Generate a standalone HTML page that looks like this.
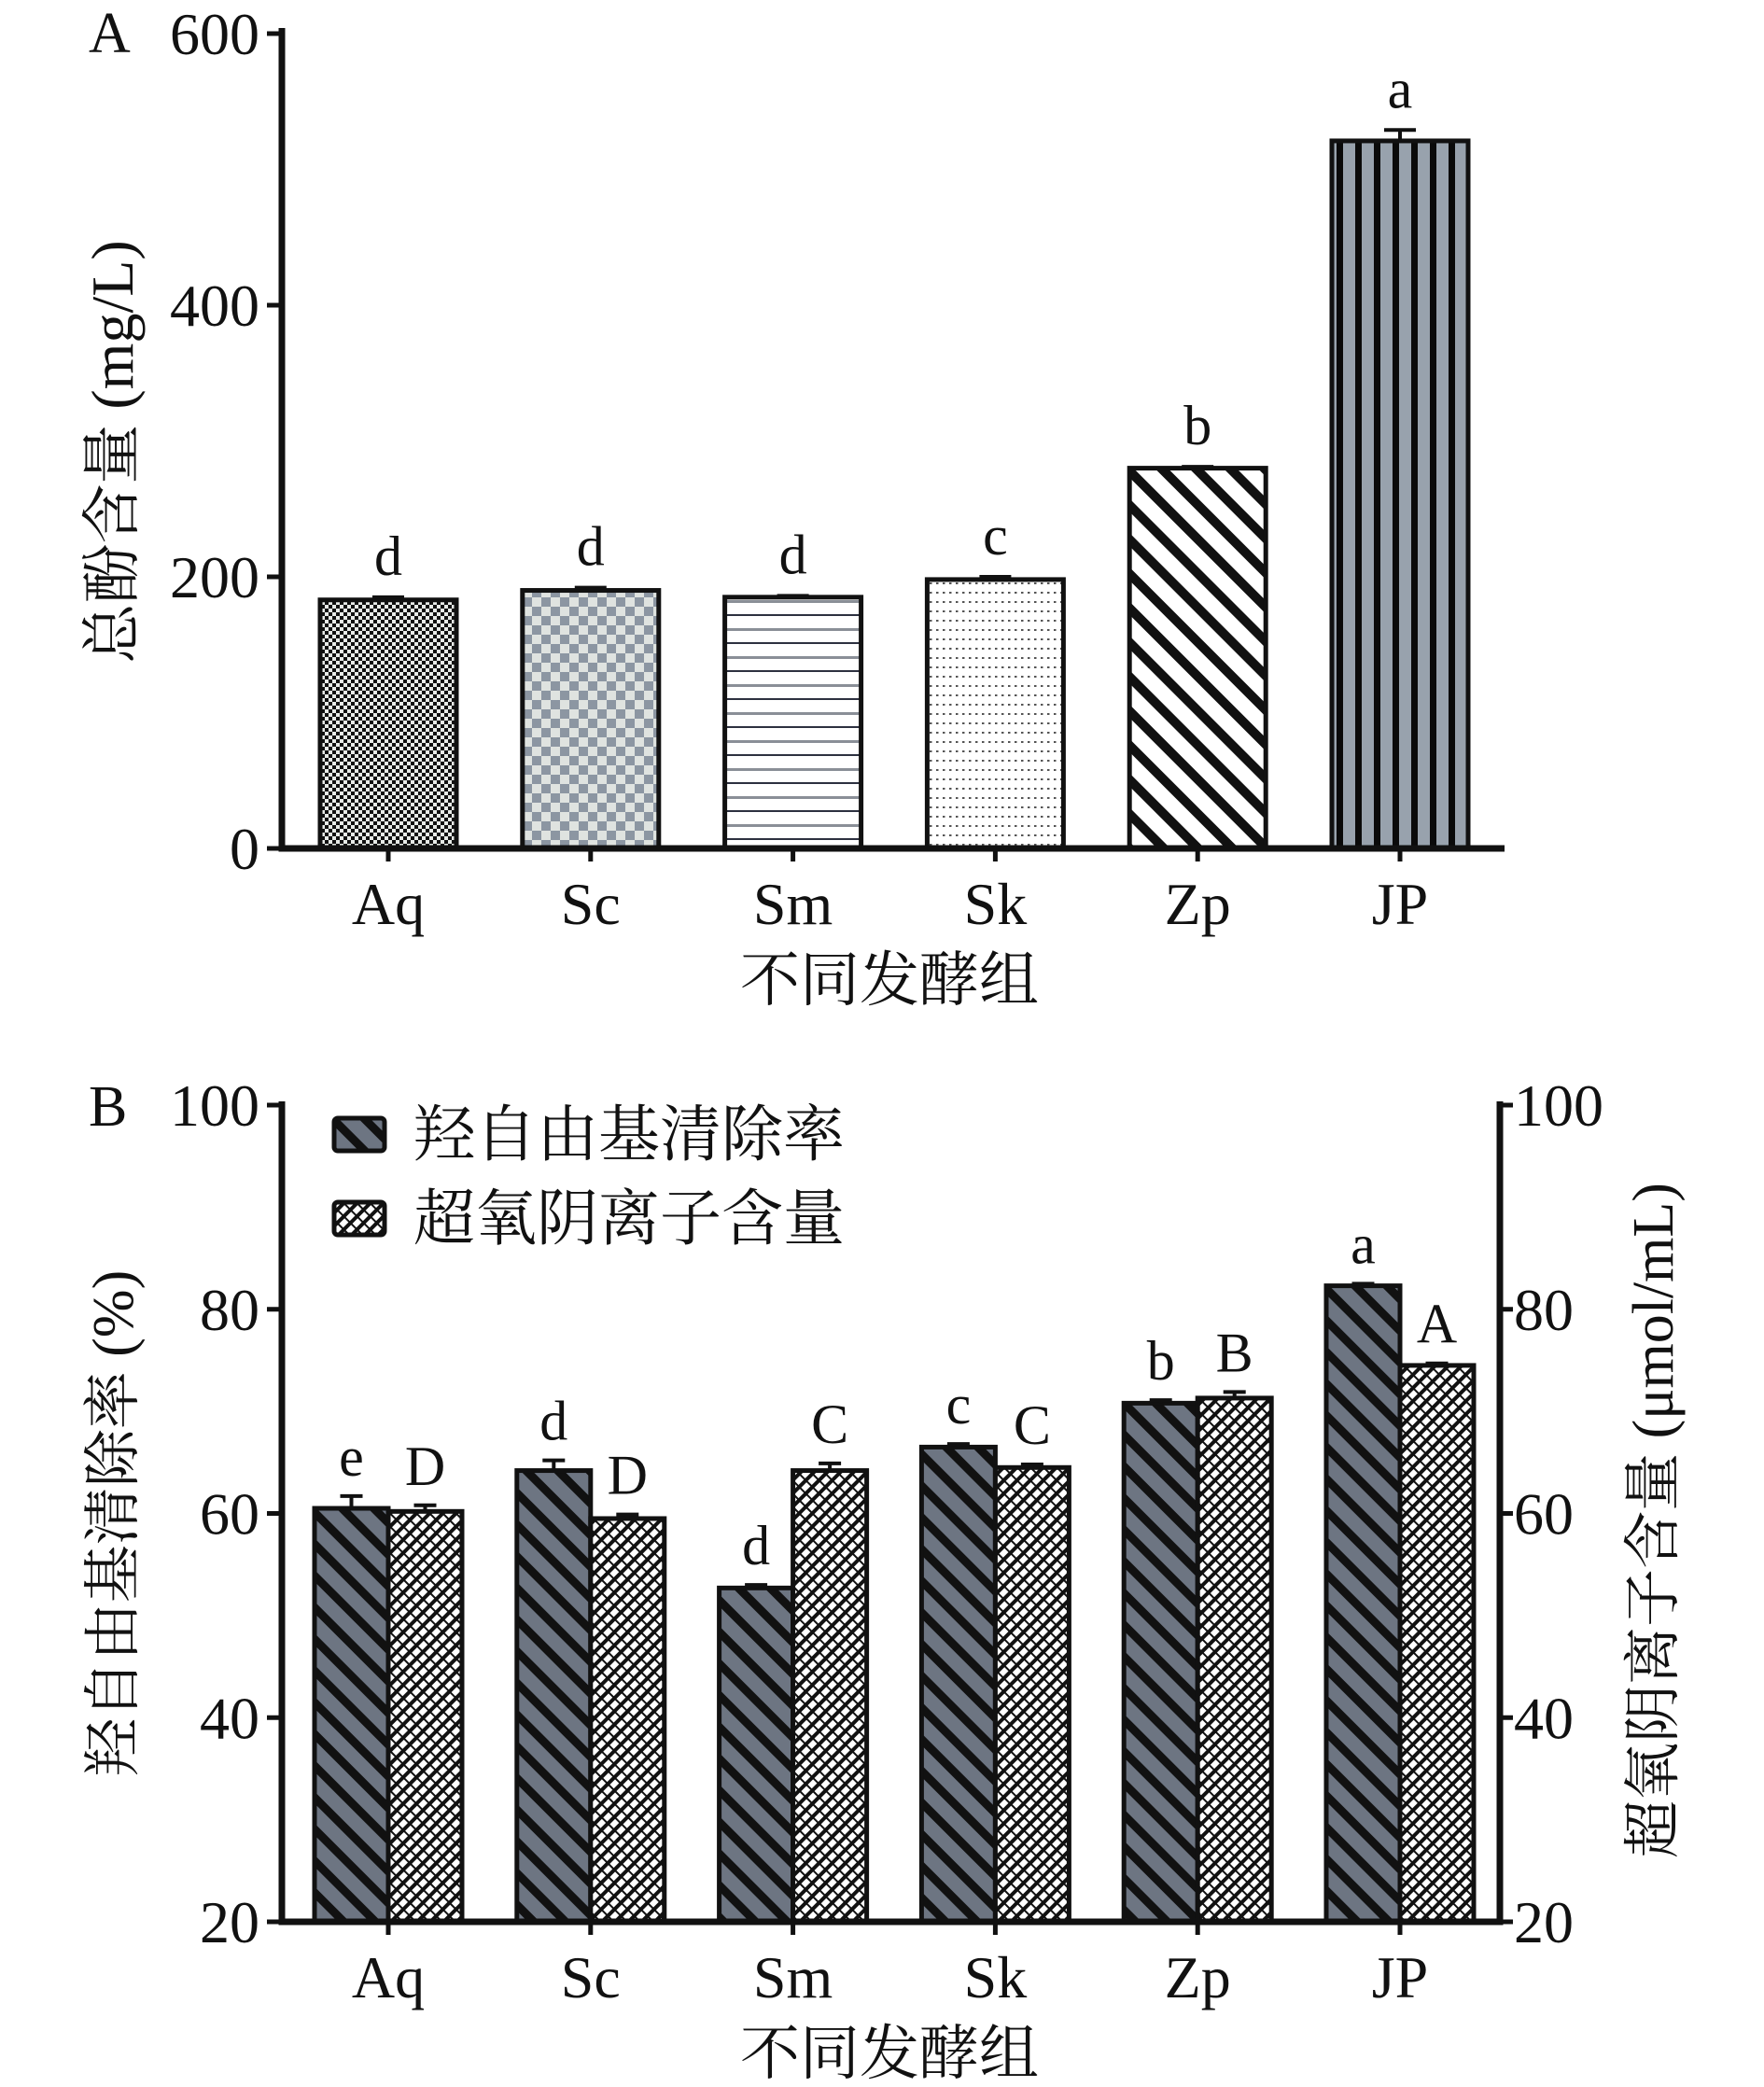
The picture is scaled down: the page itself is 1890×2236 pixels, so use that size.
<!DOCTYPE html>
<html><head><meta charset="utf-8"><style>
html,body{margin:0;padding:0;background:#fff;}
svg{display:block;}
text{font-family:"Liberation Serif","Noto Serif CJK SC",serif;fill:#111;}
</style></head><body>
<svg id="fig" width="1890" height="2236" viewBox="0 0 1890 2236" xmlns="http://www.w3.org/2000/svg">
<defs>
<pattern id="pAq" width="8" height="8" patternUnits="userSpaceOnUse"><rect width="8" height="8" fill="#e8ebe8"/><rect width="4" height="4" fill="#111"/><rect x="4" y="4" width="4" height="4" fill="#111"/></pattern>
<pattern id="pSc" width="20" height="20" patternUnits="userSpaceOnUse"><rect width="20" height="20" fill="#dfe3e0"/><rect width="10" height="10" fill="#8c96a2"/><rect x="10" y="10" width="10" height="10" fill="#8c96a2"/></pattern>
<pattern id="pSm" width="30" height="30" patternUnits="userSpaceOnUse"><rect width="30" height="30" fill="#fff"/><rect y="13" width="30" height="3" fill="#8a8f97"/><rect y="28" width="30" height="2" fill="#2d3140"/></pattern>
<pattern id="pSk" width="7" height="10" patternUnits="userSpaceOnUse"><rect width="7" height="10" fill="#fff"/><rect x="2" y="4" width="2.5" height="2" fill="#555"/></pattern>
<pattern id="pZp" width="26" height="26" patternUnits="userSpaceOnUse" patternTransform="rotate(-45)"><rect width="26" height="26" fill="#fff"/><rect width="10" height="26" fill="#111"/></pattern>
<pattern id="pJP" width="20" height="20" patternUnits="userSpaceOnUse"><rect width="20" height="20" fill="#98a2ad"/><rect x="12" width="7" height="20" fill="#0a0a0a"/></pattern>
<pattern id="pH" width="24" height="24" patternUnits="userSpaceOnUse" patternTransform="rotate(-45)"><rect width="24" height="24" fill="#6d7582"/><rect width="9" height="24" fill="#111"/></pattern>
<pattern id="pS" width="10" height="10" patternUnits="userSpaceOnUse" patternTransform="rotate(45)"><rect width="10" height="10" fill="#fff"/><rect width="4" height="10" fill="#111"/><rect y="0" width="10" height="2" fill="#111"/></pattern>
</defs>
<g id="panelA"></g>
<g id="panelB"></g>
</svg>
<script>
const categories = ["Aq","Sc","Sm","Sk","Zp","JP"];
const phenolValues = [183, 190, 185, 198, 280, 521];
const phenolErrors = [2, 2, 1, 2, 1, 8];
const phenolLetters = ["d","d","d","c","b","a"];
const phenolTicks = [0, 200, 400, 600];
const hydroxylValues = [60.5, 64.2, 52.7, 66.5, 70.8, 82.3];
const hydroxylErrors = [1.2, 1.0, 0.3, 0.3, 0.3, 0.2];
const hydroxylLetters = ["e","d","d","c","b","a"];
const superoxideValues = [60.2, 59.5, 64.2, 64.5, 71.3, 74.5];
const superoxideErrors = [0.6, 0.4, 0.7, 0.3, 0.6, 0.2];
const superoxideLetters = ["D","D","C","C","B","A"];
const pctTicks = [20, 40, 60, 80, 100];
const phenolFills = ["url(#pAq)","url(#pSc)","url(#pSm)","url(#pSk)","url(#pZp)","url(#pJP)"];

const NS = "http://www.w3.org/2000/svg";
function mk(parent, tag, attrs, txt){
  const e = document.createElementNS(NS, tag);
  for (const k in attrs) e.setAttribute(k, attrs[k]);
  if (txt !== undefined) e.textContent = txt;
  parent.appendChild(e);
  return e;
}
const xCenter = i => 416 + i * 216.8;

// ---------- Panel A ----------
const A = document.getElementById('panelA');
const yA = v => 909 - v * (873 / 600);
let el;
for (let i = 0; i < categories.length; i++) {
  const x = xCenter(i) - 73, y = yA(phenolValues[i]);
  el = mk(A, 'rect', {x: x, y: y, width: 146, height: 909 - y, fill: phenolFills[i], stroke: '#111', 'stroke-width': 5});
  
  
  const ye = yA(phenolValues[i] + phenolErrors[i]);
  el = mk(A, 'path', {d: `M${xCenter(i)-17},${ye}H${xCenter(i)+17}M${xCenter(i)},${ye}V${y}`, stroke: '#111', 'stroke-width': 4, fill: 'none'});
  
  
  el = mk(A, 'text', {x: xCenter(i), y: ye - 24, 'font-size': 60, 'text-anchor': 'middle'}, phenolLetters[i]);
  
  
  el = mk(A, 'line', {x1: xCenter(i), x2: xCenter(i), y1: 909, y2: 923, stroke: '#111', 'stroke-width': 5});
  
  
  el = mk(A, 'text', {x: xCenter(i), y: 990, 'font-size': 64, 'text-anchor': 'middle'}, categories[i]);
  
  
}
for (const t of phenolTicks) {
  el = mk(A, 'line', {x1: 286, x2: 302, y1: yA(t), y2: yA(t), stroke: '#111', 'stroke-width': 5});
  
  
  el = mk(A, 'text', {x: 278, y: yA(t) + 22, 'font-size': 64, 'text-anchor': 'end'}, String(t));
  
  
}
el = mk(A, 'path', {d: 'M302,30V909H1612', stroke: '#111', 'stroke-width': 7, fill: 'none'});


el = mk(A, 'text', {x: 95, y: 56, 'font-size': 62}, 'A');


el = mk(A, 'text', {x: 0, y: 0, 'font-size': 64, 'text-anchor': 'middle', transform: 'translate(142,484) rotate(-90)'}, '总酚含量 (mg/L)');


el = mk(A, 'text', {x: 953, y: 1072, 'font-size': 64, 'text-anchor': 'middle'}, '不同发酵组');



// ---------- Panel B ----------
const B = document.getElementById('panelB');
const yB = v => 2059 - (v - 20) * (875 / 80);
function barB(i, val, err, letter, left, fill, name){
  const x = left ? xCenter(i) - 79 : xCenter(i);
  const y = yB(val), cx = x + 39.5;
  let e = mk(B, 'rect', {x: x, y: y, width: 79, height: 2059 - y, fill: fill, stroke: '#111', 'stroke-width': 5});
  
  
  const ye = yB(val + err);
  e = mk(B, 'path', {d: `M${cx-12},${ye}H${cx+12}M${cx},${ye}V${y}`, stroke: '#111', 'stroke-width': 4, fill: 'none'});
  
  
  e = mk(B, 'text', {x: cx, y: ye - 22, 'font-size': 60, 'text-anchor': 'middle'}, letter);
  
  
}
for (let i = 0; i < categories.length; i++) {
  barB(i, hydroxylValues[i], hydroxylErrors[i], hydroxylLetters[i], true, 'url(#pH)', 'bar-hydroxyl');
  barB(i, superoxideValues[i], superoxideErrors[i], superoxideLetters[i], false, 'url(#pS)', 'bar-superoxide');
  el = mk(B, 'line', {x1: xCenter(i), x2: xCenter(i), y1: 2059, y2: 2073, stroke: '#111', 'stroke-width': 5});
  
  
  el = mk(B, 'text', {x: xCenter(i), y: 2140, 'font-size': 64, 'text-anchor': 'middle'}, categories[i]);
  
  
}
for (const t of pctTicks) {
  el = mk(B, 'line', {x1: 286, x2: 302, y1: yB(t), y2: yB(t), stroke: '#111', 'stroke-width': 5});
  
  
  el = mk(B, 'text', {x: 278, y: yB(t) + 22, 'font-size': 64, 'text-anchor': 'end'}, String(t));
  
  
  el = mk(B, 'line', {x1: 1605, x2: 1621, y1: yB(t), y2: yB(t), stroke: '#111', 'stroke-width': 5});
  
  
  el = mk(B, 'text', {x: 1622, y: yB(t) + 22, 'font-size': 64, 'text-anchor': 'start'}, String(t));
  
  
}
el = mk(B, 'path', {d: 'M302,1180V2059H1607V1180', stroke: '#111', 'stroke-width': 7, fill: 'none'});


el = mk(B, 'text', {x: 95, y: 1206, 'font-size': 62}, 'B');


el = mk(B, 'text', {x: 0, y: 0, 'font-size': 62, 'text-anchor': 'middle', transform: 'translate(142,1632) rotate(-90)'}, '羟自由基清除率 (%)');


el = mk(B, 'text', {x: 0, y: 0, 'font-size': 62, 'text-anchor': 'middle', transform: 'translate(1792,1629) rotate(-90)'}, '超氧阴离子含量 (μmol/mL)');


el = mk(B, 'text', {x: 953, y: 2222, 'font-size': 64, 'text-anchor': 'middle'}, '不同发酵组');


// legend
el = mk(B, 'rect', {x: 358, y: 1198, width: 54, height: 35, rx: 4, fill: 'url(#pH)', stroke: '#111', 'stroke-width': 5});


el = mk(B, 'text', {x: 443, y: 1238, 'font-size': 66}, '羟自由基清除率');


el = mk(B, 'rect', {x: 358, y: 1288, width: 54, height: 35, rx: 4, fill: 'url(#pS)', stroke: '#111', 'stroke-width': 5});


el = mk(B, 'text', {x: 443, y: 1328, 'font-size': 66}, '超氧阴离子含量');


</script>
</body></html>
